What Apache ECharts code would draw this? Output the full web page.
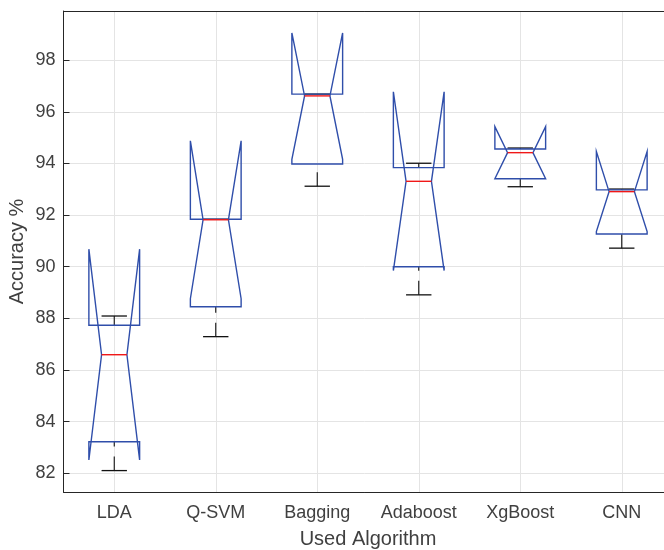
<!DOCTYPE html>
<html><head><meta charset="utf-8">
<script src="https://cdn.jsdelivr.net/npm/echarts@6/dist/echarts.min.js"></script>
<style>html,body{margin:0;padding:0;background:#fff}#c{width:664px;height:550px}</style>
</head><body><div id="c"></div>
<script>
const categories = ['LDA', 'Q-SVM', 'Bagging', 'Adaboost', 'XgBoost', 'CNN'];
const q1        = [83.22, 88.45, 93.98, 90.00, 93.41, 91.27];
const median    = [86.59, 91.82, 96.62, 93.31, 94.42, 92.91];
const q3        = [87.73, 91.84, 96.69, 93.84, 94.56, 92.98];
const notchLo   = [82.51, 88.76, 94.16, 89.85, 93.41, 91.36];
const notchHi   = [90.68, 94.88, 99.06, 96.78, 95.43, 94.46];
const whiskerLo = [82.10, 87.29, 93.12, 88.91, 93.10, 90.72];
const whiskerHi = [88.09, 91.84, 96.69, 94.01, 94.60, 93.01];
const yTickLabels = ['82', '84', '86', '88', '90', '92', '94', '96', '98'];

const FONT = 'Liberation Sans, Arial, Helvetica, sans-serif';
const AX = '#262626';
const TXT = '#404040';
const BOX = '#2f4eaa';
const MED = '#f01818';

const data = categories.map((c, i) => [i, q1[i], median[i], q3[i], notchLo[i], notchHi[i], whiskerLo[i], whiskerHi[i]]);

function renderItem(params, api) {
  const i = api.value(0);
  const bw = api.size([1, 0])[0];
  const cx = api.coord([i, api.value(2)])[0];
  const Y = v => api.coord([i, v])[1];
  const hb = bw * 0.25, hn = bw * 0.125;
  const yq1 = Y(api.value(1)), ymed = Y(api.value(2)), yq3 = Y(api.value(3));
  const ynlo = Y(api.value(4)), ynhi = Y(api.value(5));
  const ywlo = Y(api.value(6)), ywhi = Y(api.value(7));
  const L = cx - hb, R = cx + hb, iL = cx - hn, iR = cx + hn;
  const wStyle = { stroke: '#111', lineWidth: 1.1, lineDash: [14, 10], fill: null };
  const cStyle = { stroke: '#111', lineWidth: 1.3, fill: null };
  const children = [];
  if (Math.abs(yq1 - ywlo) > 0.5)
    children.push({ type: 'line', shape: { x1: cx, y1: ywlo, x2: cx, y2: yq1 }, style: wStyle });
  if (Math.abs(yq3 - ywhi) > 0.5)
    children.push({ type: 'line', shape: { x1: cx, y1: ywhi, x2: cx, y2: yq3 }, style: wStyle });
  children.push({ type: 'line', shape: { x1: iL, y1: ywlo, x2: iR, y2: ywlo }, style: cStyle });
  children.push({ type: 'line', shape: { x1: iL, y1: ywhi, x2: iR, y2: ywhi }, style: cStyle });
  children.push({
    type: 'polygon',
    shape: { points: [[L, yq1], [L, ynlo], [iL, ymed], [L, ynhi], [L, yq3], [R, yq3], [R, ynhi], [iR, ymed], [R, ynlo], [R, yq1]] },
    style: { stroke: BOX, lineWidth: 1.4, fill: null, lineJoin: 'miter' }
  });
  children.push({ type: 'line', shape: { x1: iL, y1: ymed, x2: iR, y2: ymed }, style: { stroke: MED, lineWidth: 1.4 } });
  return { type: 'group', children };
}

const chart = echarts.init(document.getElementById('c'), null, { renderer: 'canvas' });
chart.setOption({
  animation: false,
  backgroundColor: '#fff',
  grid: { left: 63.5, top: 11, right: -8.5, bottom: 58, outerBoundsMode: 'none', containLabel: false },
  xAxis: [{
    type: 'category', data: categories, position: 'bottom',
    axisLine: { lineStyle: { color: AX, width: 1 } },
    axisTick: { inside: true, alignWithLabel: true, length: 6, lineStyle: { color: AX } },
    axisLabel: { color: TXT, fontSize: 18, fontFamily: FONT, margin: 12 },
    splitLine: { show: true, alignWithLabel: true, lineStyle: { color: '#e4e4e4' } },
    name: 'Used Algorithm', nameLocation: 'middle', nameGap: 37, nameMoveOverlap: false,
    nameTextStyle: { color: TXT, fontSize: 20, fontFamily: FONT }
  }, {
    type: 'category', data: categories, position: 'top',
    axisLine: { lineStyle: { color: AX, width: 1 } },
    axisTick: { inside: true, alignWithLabel: true, length: 6, lineStyle: { color: AX } },
    axisLabel: { show: false }, splitLine: { show: false }
  }],
  yAxis: {
    type: 'value', min: 81.27, max: 99.91, splitNumber: 9,
    axisLine: { show: true, lineStyle: { color: AX, width: 1 } },
    axisTick: { show: true, inside: true, length: 6, lineStyle: { color: AX } },
    axisLabel: {
      color: TXT, fontSize: 18, fontFamily: FONT, margin: 8, showMinLabel: false, showMaxLabel: false,
      formatter: v => { const s = String(Math.round(v)); return (Math.abs(v - Math.round(v)) < 1e-6 && yTickLabels.includes(s)) ? s : ''; }
    },
    splitLine: { show: true, lineStyle: { color: '#e4e4e4' } },
    name: 'Accuracy %', nameLocation: 'middle', nameGap: 36, nameMoveOverlap: false,
    nameTextStyle: { color: TXT, fontSize: 20, fontFamily: FONT }
  },
  series: [{
    type: 'custom', renderItem, data, xAxisIndex: 0, yAxisIndex: 0,
    encode: { x: 0, y: [1, 2, 3, 4, 5, 6, 7] }, clip: false
  }]
});
</script></body></html>
